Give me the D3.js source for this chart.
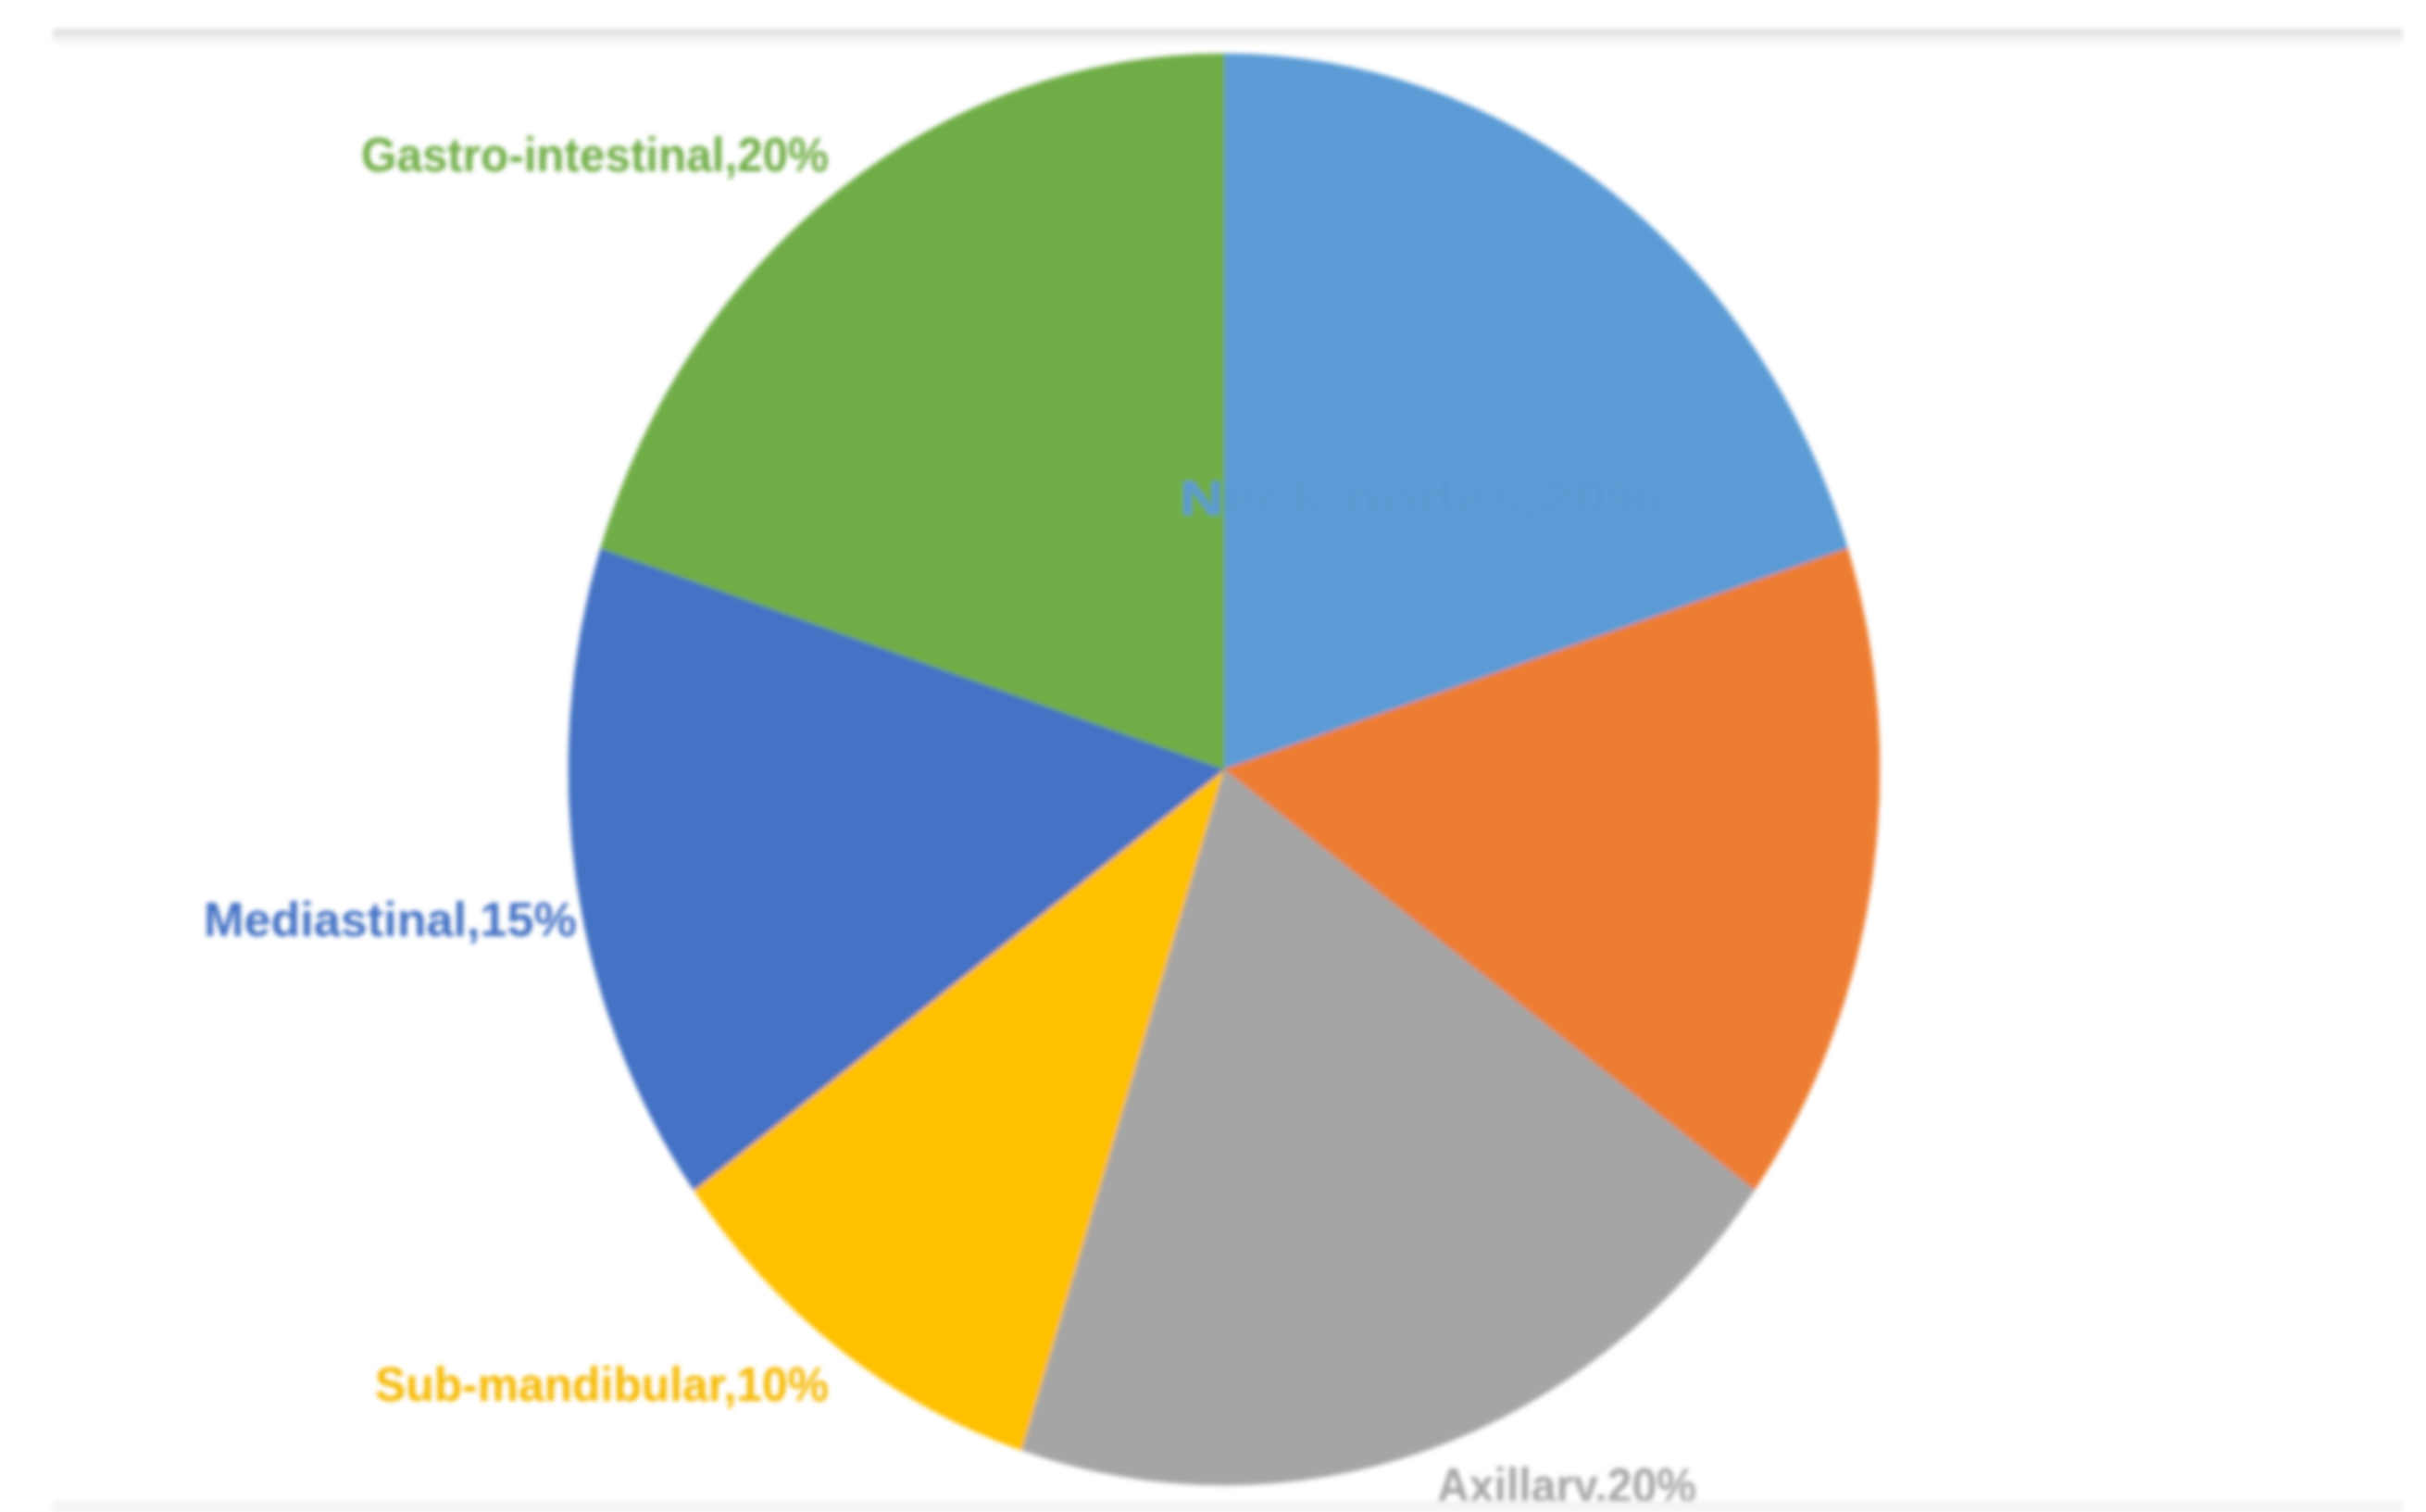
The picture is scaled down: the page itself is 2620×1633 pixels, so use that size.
<!DOCTYPE html>
<html>
<head>
<meta charset="utf-8">
<script src="https://cdn.jsdelivr.net/npm/d3@7"></script>
<style>
  html, body { margin: 0; padding: 0; background: #ffffff; }
  svg { display: block; }
</style>
</head>
<body>
<svg id="chart" width="2620" height="1633"></svg>
<script>
// ---- data ----
const categories = ["Neck nodes", "Inguinal region", "Axillary", "Sub-mandibular", "Mediastinal", "Gastro-intestinal"];
const values = [20, 15, 20, 10, 15, 20];
const labelTexts = ["Neck nodes,20%", "Inguinal region,15%", "Axillary,20%", "Sub-mandibular,10%", "Mediastinal,15%", "Gastro-intestinal,20%"];

// ---- styles / layout ----
const colors = ["#5B9BD5", "#ED7D31", "#A5A5A5", "#FFC000", "#4472C4", "#70AD47"];
const labelColors = ["#5A9AD3", "#EB7C31", "#A5A5A5", "#F5B800", "#4472C4", "#70AD47"];
const labelPos = [[1274, 556, 520, "start"], [1429, 911, 484, "start"], [1552, 1622, 280, "start"], [895, 1513, 490, "end"], [623, 1011, 403, "end"], [895, 185, 505, "end"]];

const W = 2620, H = 1633;
const cx = 1322, cy = 831, rx = 708, ry = 773;

const svg = d3.select("#chart");

const defs = svg.append("defs");
defs.append("filter").attr("id", "soft")
  .attr("x", "-5%").attr("y", "-5%").attr("width", "110%").attr("height", "110%")
  .append("feGaussianBlur").attr("stdDeviation", 2.4);

const root = svg.append("g").attr("filter", "url(#soft)");

// top divider
root.append("rect").attr("x", 57).attr("y", 31).attr("width", 2595 - 57).attr("height", 8).attr("fill", "#e3e3e3");
root.append("rect").attr("x", 57).attr("y", 39).attr("width", 2595 - 57).attr("height", 8).attr("fill", "#f4f4f4");

const pie = d3.pie().sort(null).value(d => d).startAngle(0).endAngle(2 * Math.PI);
const arcs = pie(values);
const arc = d3.arc().innerRadius(0).outerRadius(ry);

const pieG = root.append("g")
  .attr("transform", `translate(${cx},${cy}) scale(${rx / ry},1)`);

pieG.selectAll("path.slice")
  .data(arcs)
  .join("path")
  .attr("class", "slice")
  .attr("d", arc)
  .attr("fill", (d, i) => colors[i])
  .attr("stroke", (d, i) => colors[i])
  .attr("stroke-width", 0.8);

// labels
root.selectAll("text.lbl")
  .data(labelTexts)
  .join("text")
  .attr("class", "lbl")
  .attr("x", (d, i) => labelPos[i][0])
  .attr("y", (d, i) => labelPos[i][1])
  .attr("text-anchor", (d, i) => labelPos[i][3])
  .attr("textLength", (d, i) => labelPos[i][2])
  .attr("lengthAdjust", "spacingAndGlyphs")
  .attr("font-family", "'Liberation Sans', Arial, sans-serif")
  .attr("font-weight", "bold")
  .attr("font-size", 52)
  .attr("fill", (d, i) => labelColors[i])
  .text(d => d);

// bottom band
root.append("rect").attr("x", 57).attr("y", 1621).attr("width", 2595 - 57).attr("height", 12).attr("fill", "#f4f4f4");
</script>
</body>
</html>
